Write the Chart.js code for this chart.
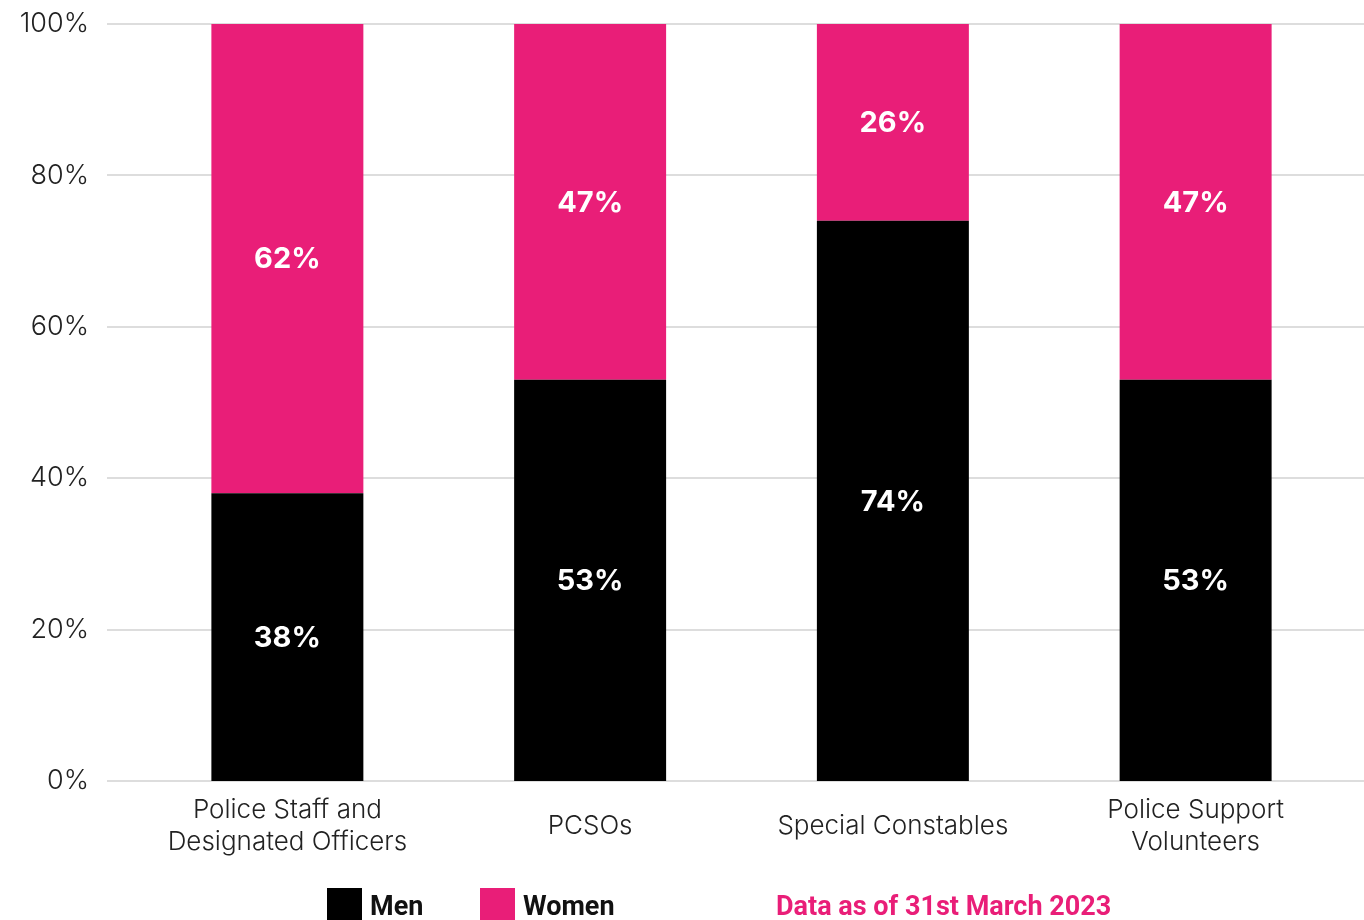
<!DOCTYPE html>
<html lang="en">
<head>
    <meta charset="UTF-8">
    <title>Workforce by sex</title>
    <script src="https://cdn.jsdelivr.net/npm/chart.js"></script>
    <style>
        body {
            margin: 0;
            padding: 0;
            background: #fff;
            width: 1364px;
            height: 920px;
            overflow: hidden;
            position: relative;
        }
        #chartBox {
            position: absolute;
            left: 0;
            top: 0;
            width: 1364px;
            height: 895px;
        }
        .legend {
            position: absolute;
            top: 888px;
            font-family: Roboto, sans-serif;
            font-weight: bold;
            font-size: 27px;
            line-height: 36px;
            color: #111;
            display: flex;
            align-items: flex-start;
        }
        .swatch {
            display: inline-block;
            width: 35px;
            height: 36px;
            margin-right: 8px;
        }
    </style>
</head>
<body>
    <div id="chartBox"><canvas id="sexChart"></canvas></div>
    <div class="legend" style="left:327px"><span class="swatch" style="background:#000"></span>Men</div>
    <div class="legend" style="left:480px"><span class="swatch" style="background:#E91E78"></span>Women</div>
    <div class="legend" style="left:776px;color:#E91E78">Data as of 31st March 2023</div>
    <script>
    const categories = [
        ['Police Staff and', 'Designated Officers'],
        'PCSOs',
        'Special Constables',
        ['Police Support', 'Volunteers']
    ];
    const menValues = [38, 53, 74, 53];
    const womenValues = [62, 47, 26, 47];
    const yTicks = [0, 20, 40, 60, 80, 100];

    // gridlines run wider than the bar area, from x=107 to the right edge
    const wideGrid = {
        id: 'wideGrid',
        beforeDatasetsDraw(chart) {
            const ctx = chart.ctx;
            const y = chart.scales.y;
            ctx.save();
            ctx.strokeStyle = '#dddddd';
            ctx.lineWidth = 2;
            y.ticks.forEach(t => {
                const py = Math.round(y.getPixelForValue(t.value));
                ctx.beginPath();
                ctx.moveTo(107, py);
                ctx.lineTo(chart.width, py);
                ctx.stroke();
            });
            ctx.restore();
        }
    };

    // white percentage labels in the middle of each segment
    const segmentLabels = {
        id: 'segmentLabels',
        afterDatasetsDraw(chart) {
            const ctx = chart.ctx;
            ctx.save();
            ctx.fillStyle = '#fff';
            ctx.font = 'bold 29px Inter, sans-serif';
            ctx.textAlign = 'center';
            ctx.textBaseline = 'middle';
            chart.data.datasets.forEach((ds, i) => {
                chart.getDatasetMeta(i).data.forEach((bar, j) => {
                    ctx.fillText(ds.data[j] + '%', bar.x, (bar.y + bar.base) / 2 + 1);
                });
            });
            ctx.restore();
        }
    };

    new Chart(document.getElementById('sexChart'), {
        type: 'bar',
        data: {
            labels: categories,
            datasets: [
                { label: 'Men', data: menValues, backgroundColor: '#000000' },
                { label: 'Women', data: womenValues, backgroundColor: '#E91E78' }
            ]
        },
        options: {
            responsive: true,
            maintainAspectRatio: false,
            animation: false,
            layout: { padding: { left: 0, top: 0, right: 17, bottom: 0 } },
            datasets: { bar: { categoryPercentage: 1, barPercentage: 0.502 } },
            plugins: {
                legend: { display: false },
                tooltip: { enabled: false }
            },
            scales: {
                x: {
                    stacked: true,
                    grid: { display: false },
                    border: { display: false },
                    ticks: {
                        color: '#222',
                        font: { family: 'Inter, sans-serif', size: 26, weight: 300, lineHeight: 1.23 },
                        padding: 21,
                        maxRotation: 0,
                        autoSkip: false,
                        crossAlign: 'center'
                    }
                },
                y: {
                    stacked: true,
                    min: 0,
                    max: 100,
                    afterBuildTicks: axis => { axis.ticks = yTicks.map(v => ({ value: v })); },
                    afterFit: axis => {
                        axis.width = 136;
                        axis.paddingTop = 24;
                        axis.paddingBottom = 0;
                    },
                    grid: { display: false },
                    border: { display: false },
                    ticks: {
                        color: '#222',
                        font: { family: 'Inter, sans-serif', size: 27, weight: 300 },
                        padding: 39,
                        callback: v => v + '%'
                    }
                }
            }
        },
        plugins: [wideGrid, segmentLabels]
    });
    </script>
</body>
</html>
